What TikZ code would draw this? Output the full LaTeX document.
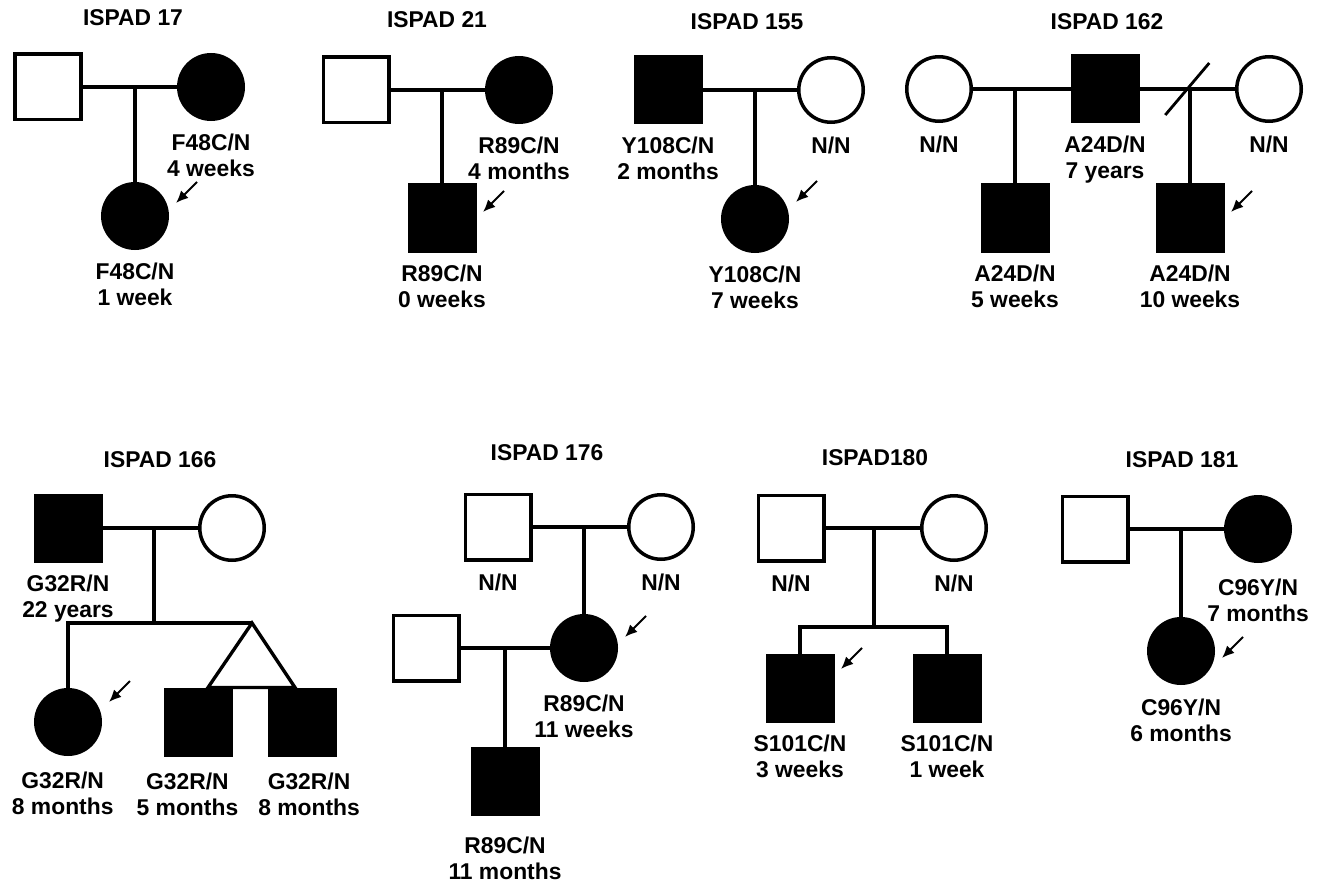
\documentclass[tikz,border=0pt]{standalone}
\usepackage{fontspec}
\setmainfont{Liberation Sans}
\usetikzlibrary{arrows.meta,positioning,calc}

\tikzset{
  male/.style={rectangle, draw, line width=2pt, minimum size=1.31cm, inner sep=0pt},
  female/.style={circle, draw, line width=2pt, minimum size=1.29cm, inner sep=0pt},
  aff/.style={fill=black},
  rel/.style={line width=1.9pt},
  gtext/.style={font=\bfseries\fontsize{13}{14.8}\selectfont, align=center, inner sep=0pt},
  pedtitle/.style={font=\bfseries\fontsize{13}{15}\selectfont, inner sep=0pt},
  pbarrow/.style={line width=1.1pt, -{Latex[length=7pt,width=6pt]}}
}

% proband arrow next to a node
\newcommand{\probarrow}[2]{%
  \coordinate (#1tip) at ($(#1)+(41,#2)$);
  \coordinate (#1tail) at ($(#1tip)+(21,-21)$);
  \draw[pbarrow] (#1tail) -- (#1tip);}

\begin{document}
\begin{tikzpicture}[x=0.02cm, y=-0.02cm]
\useasboundingbox (0,0) rectangle (1324,885);

% ISPAD 17
\node[pedtitle] (t17) at (133,18) {ISPAD 17};
\node[male] (fa17) at (48,87) {};
\node[female, aff] (mo17) at (211,87) {};
\node[female, aff] (ch17) at (135,216) {};
\draw[rel] (fa17) -- (mo17);
\draw[rel] (ch17) -- (ch17 |- mo17);
\node[gtext, below=7pt of mo17] (lmo17) {F48C/N\\4 weeks};
\node[gtext, below=7pt of ch17] (lch17) {F48C/N\\1 week};
\probarrow{ch17}{-13}

% ISPAD 21
\node[pedtitle] (t21) at (437,20) {ISPAD 21};
\node[male] (fa21) at (356,90) {};
\node[female, aff] (mo21) at (519,90) {};
\node[male, aff] (ch21) at (442,218) {};
\draw[rel] (fa21) -- (mo21);
\draw[rel] (ch21) -- (ch21 |- mo21);
\node[gtext, below=7pt of mo21] (lmo21) {R89C/N\\4 months};
\node[gtext, below=7pt of ch21] (lch21) {R89C/N\\0 weeks};
\probarrow{ch21}{-6}

% ISPAD 155
\node[pedtitle] (t155) at (747,22) {ISPAD 155};
\node[male, aff] (fa155) at (668,90) {};
\node[female] (mo155) at (831,90) {};
\node[female, aff] (ch155) at (755,219) {};
\draw[rel] (fa155) -- (mo155);
\draw[rel] (ch155) -- (ch155 |- mo155);
\node[gtext, below=7pt of fa155] (lfa155) {Y108C/N\\2 months};
\node[gtext, below=7pt of mo155] (lmo155) {N/N};
\node[gtext, below=7pt of ch155] (lch155) {Y108C/N\\7 weeks};
\probarrow{ch155}{-17}

% ISPAD 162
\node[pedtitle] (t162) at (1107,22) {ISPAD 162};
\node[female] (wa162) at (939,89) {};
\node[male, aff] (fa162) at (1105,89) {};
\node[female] (wb162) at (1269,89) {};
\node[male, aff] (ca162) at (1015,218) {};
\node[male, aff] (cb162) at (1190,218) {};
\draw[rel] (wa162) -- (fa162);
\draw[rel] (fa162) -- (wb162);
\draw[rel] (ca162) -- (ca162 |- fa162);
\draw[rel] (cb162) -- (cb162 |- fa162);
\coordinate (dv162) at ($(fa162.east)!0.5!(wb162.west)$);
\draw[line width=1.6pt] ($(dv162)+(-22,26)$) -- ($(dv162)+(22,-26)$);
\node[gtext, below=7pt of wa162] (lwa162) {N/N};
\node[gtext, below=7pt of fa162] (lfa162) {A24D/N\\7 years};
\node[gtext, below=7pt of wb162] (lwb162) {N/N};
\node[gtext, below=7pt of ca162] (lca162) {A24D/N\\5 weeks};
\node[gtext, below=7pt of cb162] (lcb162) {A24D/N\\10 weeks};
\probarrow{cb162}{-6}

% ISPAD 166
\node[pedtitle] (t166) at (160,460) {ISPAD 166};
\node[male, aff] (fa166) at (68,528) {};
\node[female] (mo166) at (232,528) {};
\coordinate (s166) at (154,623);
\coordinate (ap166) at (252,623);
\node[female, aff] (ch166) at (68,722) {};
\node[male, aff] (ta166) at (198,722) {};
\node[male, aff] (tb166) at (302,722) {};
\draw[rel] (fa166) -- (mo166);
\draw[rel] (s166) -- (s166 |- fa166);
\draw[rel] (ch166) -- (ch166 |- s166) -- (ap166);
\draw[rel] ($(ta166.north)+(10,0)$) -- (ap166) -- ($(tb166.north)+(-7,0)$) -- cycle;
\node[gtext, below=7pt of fa166] (lfa166) {G32R/N\\22 years};
\node[gtext, below=9pt of ch166, xshift=-3pt] (lch166) {G32R/N\\8 months};
\node[gtext, below=9pt of ta166, xshift=-6pt] (lta166) {G32R/N\\5 months};
\node[gtext, below=9pt of tb166, xshift=4pt] (ltb166) {G32R/N\\8 months};
\probarrow{ch166}{-20}

% ISPAD 176
\node[pedtitle] (t176) at (547,453) {ISPAD 176};
\node[male] (fa176) at (498,527) {};
\node[female] (mo176) at (661,527) {};
\node[female, aff] (pb176) at (584,648) {};
\node[male] (sp176) at (426,648) {};
\node[male, aff] (ch176) at (505,781) {};
\draw[rel] (fa176) -- (mo176);
\draw[rel] (pb176) -- (pb176 |- fa176);
\draw[rel] (sp176) -- (pb176);
\draw[rel] (ch176) -- (ch176 |- sp176);
\node[gtext, below=7pt of fa176] (lfa176) {N/N};
\node[gtext, below=7pt of mo176] (lmo176) {N/N};
\node[gtext, below=7pt of pb176] (lpb176) {R89C/N\\11 weeks};
\node[gtext, below=12pt of ch176] (lch176) {R89C/N\\11 months};
\probarrow{pb176}{-11}

% ISPAD180
\node[pedtitle] (t180) at (875,458) {ISPAD180};
\node[male] (fa180) at (791,528) {};
\node[female] (mo180) at (954,528) {};
\coordinate (s180) at (874,627);
\node[male, aff] (ca180) at (800,688) {};
\node[male, aff] (cb180) at (947,688) {};
\draw[rel] (fa180) -- (mo180);
\draw[rel] (s180) -- (s180 |- fa180);
\draw[rel] (ca180) -- (ca180 |- s180) -- (cb180 |- s180) -- (cb180);
\node[gtext, below=7pt of fa180] (lfa180) {N/N};
\node[gtext, below=7pt of mo180] (lmo180) {N/N};
\node[gtext, below=7pt of ca180] (lca180) {S101C/N\\3 weeks};
\node[gtext, below=7pt of cb180] (lcb180) {S101C/N\\1 week};
\probarrow{ca180}{-19}

% ISPAD 181
\node[pedtitle] (t181) at (1182,460) {ISPAD 181};
\node[male] (fa181) at (1095,529) {};
\node[female, aff] (mo181) at (1258,529) {};
\node[female, aff] (ch181) at (1181,651) {};
\draw[rel] (fa181) -- (mo181);
\draw[rel] (ch181) -- (ch181 |- mo181);
\node[gtext, below=9pt of mo181] (lmo181) {C96Y/N\\7 months};
\node[gtext, below=8pt of ch181] (lch181) {C96Y/N\\6 months};
\probarrow{ch181}{7}
\end{tikzpicture}
\end{document}
